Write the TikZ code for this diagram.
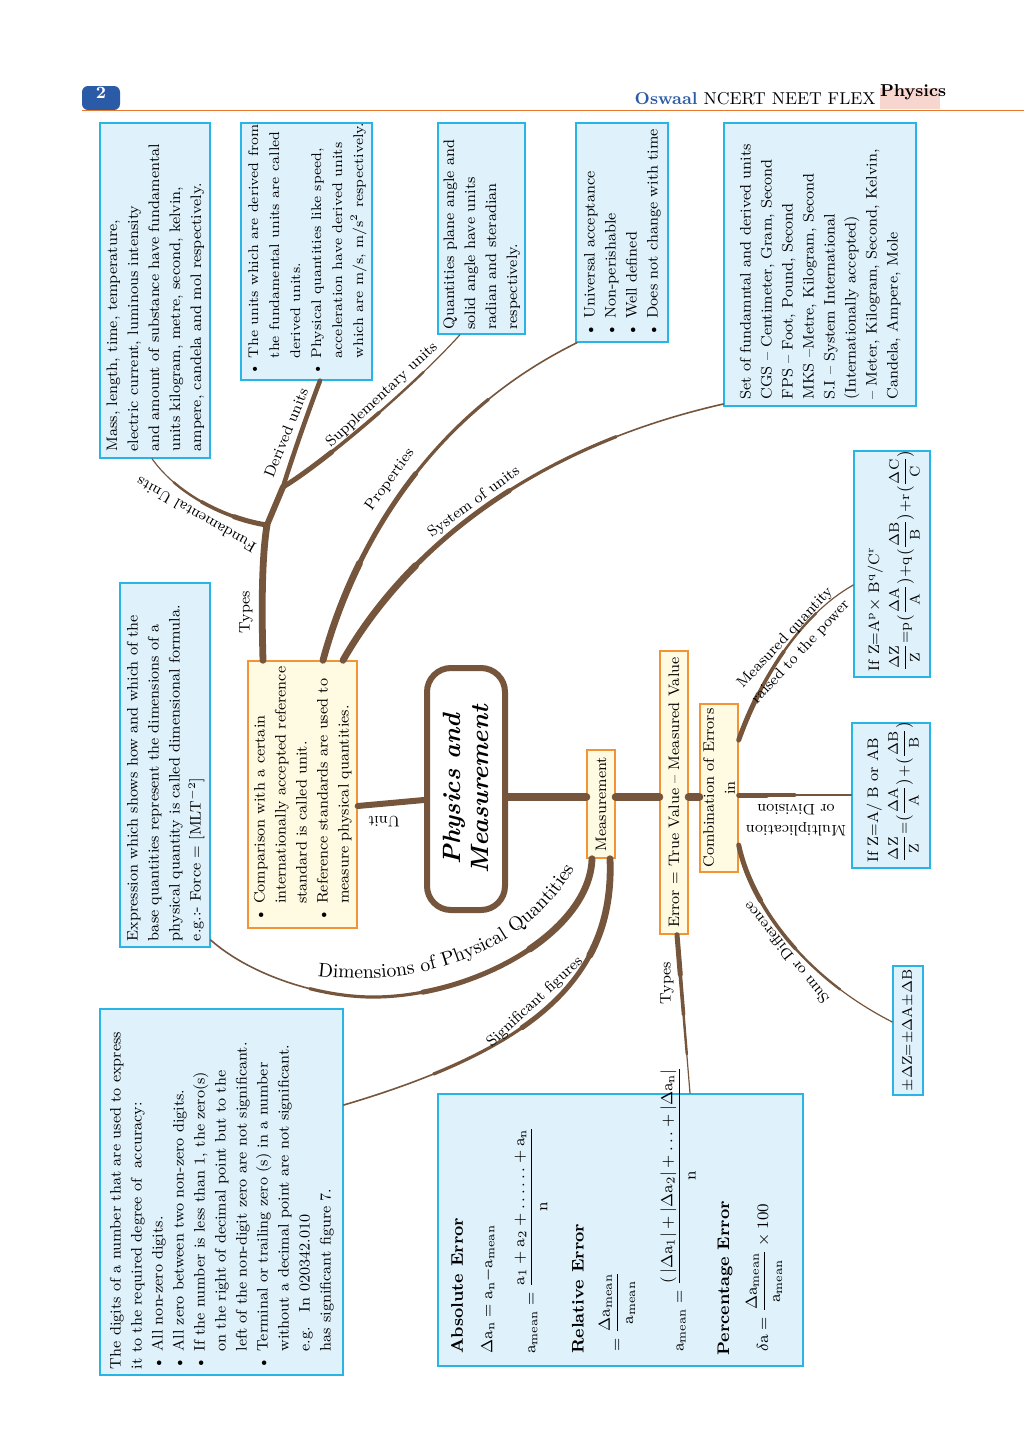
\documentclass[tikz,border=0pt]{standalone}
\usepackage{amsmath}
\usepackage{tikz}
\usetikzlibrary{fit,decorations.text}

\definecolor{brn}{RGB}{117,86,61}
\definecolor{bluefill}{RGB}{223,241,251}
\definecolor{blueline}{RGB}{41,180,230}
\definecolor{yelfill}{RGB}{255,251,226}
\definecolor{yelline}{RGB}{242,148,54}
\definecolor{oswblue}{RGB}{43,91,166}
\definecolor{hdrline}{RGB}{232,119,46}
\definecolor{pinkbg}{RGB}{248,214,208}

\newcommand{\txt}{\fontsize{7.6}{10.5}\selectfont}
\newcommand{\tighttxt}{\fontsize{7}{10.5}\selectfont}
\newcommand{\smalltxt}{\fontsize{7}{9}\selectfont}
\newcommand{\mathtxt}{\fontsize{8.4}{10.5}\selectfont}
\newcommand{\bigtxt}{\fontsize{9.8}{12}\selectfont}
\newcommand{\hdrfont}{\fontsize{8.6}{10}\selectfont}
\newcommand{\plainlines}[1]{\begin{tabular}{@{}l@{}}#1\end{tabular}}
\newcommand{\bulletlines}[1]{\begin{tabular}{@{}l@{\hspace{2.5pt}}l@{}}#1\end{tabular}}
\newcommand{\bul}{\textbullet}

\tikzset{
  bluebox/.style={draw=blueline, fill=bluefill, line width=0.7pt, inner sep=0pt},
  yelbox/.style={draw=yelline, fill=yelfill, line width=0.7pt, inner sep=0pt},
  uptxt/.style={rotate=90, font=\txt, inner sep=0pt},
  lbl/.style={font=\txt, inner sep=0pt, align=center},
  trunk/.style={draw=brn, line cap=round},
  taper/.style n args={3}{draw=brn, line width=0.8pt, line cap=round,
    preaction={draw=brn, line width=1.6pt, line cap=round, dash pattern=on #3 off 4000pt},
    preaction={draw=brn, line width=2.5pt, line cap=round, dash pattern=on #2 off 4000pt},
    preaction={draw=brn, line width=3.4pt, line cap=round, dash pattern=on #1 off 4000pt}},
  thintaper/.style n args={3}{draw=brn, line width=0.6pt, line cap=round,
    preaction={draw=brn, line width=1.2pt, line cap=round, dash pattern=on #3 off 4000pt},
    preaction={draw=brn, line width=1.8pt, line cap=round, dash pattern=on #2 off 4000pt},
    preaction={draw=brn, line width=2.5pt, line cap=round, dash pattern=on #1 off 4000pt}},
}

\begin{document}
\begin{tikzpicture}[x=0.5pt, y=-0.5pt]
\path[use as bounding box, fill=white] (0,0) rectangle (1024,1440);

% header
\node[fill=oswblue, rounded corners=3pt, inner sep=0pt, text=white, font=\hdrfont\bfseries, fit={(82,86) (120,110)}] (pgno) {2};
\draw[hdrline, line width=0.8pt] (pgno.south west) -- (pgno.south west -| 1024,0);
\node[anchor=base east, inner sep=0pt, font=\hdrfont] (hdr) at (876,104) {\textcolor{oswblue}{\bfseries Oswaal} NCERT NEET FLEX};
\node[fill=pinkbg, inner sep=0pt, font=\hdrfont\bfseries, fit={(880,88) (940,109)}] (subj) {Physics};

% top row of boxes
\node[bluebox, fit={(100,123) (210,458)}] (mass) {};
\node[uptxt] (masstxt) at (mass.center) {\parbox{161pt}{\plainlines{%
Mass, length, time, temperature,\\
electric current, luminous intensity\\
and amount of substance have fundamental\\
units kilogram, metre, second, kelvin,\\
ampere, candela and mol respectively.}}};
\node[bluebox, fit={(241,123) (372,380)}] (derived) {};
\node[uptxt, font=\tighttxt] (derivedtxt) at (derived.center) {\parbox{124pt}{\bulletlines{%
\bul & The units which are derived from\\
 & the fundamental units are called\\
 & derived units.\\
\bul & Physical quantities like speed,\\
 & acceleration have derived units\\
 & which are m/s, m/s$^2$ respectively.}}};
\node[bluebox, fit={(438,123) (525,334)}] (supp) {};
\node[uptxt] (supptxt) at (supp.center) {\parbox{101pt}{\plainlines{%
Quantities plane angle and\\
solid angle have units\\
radian and steradian\\
respectively.}}};
\node[bluebox, fit={(576,123) (668,342)}] (prop) {};
\node[uptxt] (proptxt) at (prop.center) {\parbox{104pt}{\bulletlines{%
\bul & Universal acceptance\\
\bul & Non-perishable\\
\bul & Well defined\\
\bul & Does not change with time}}};
\node[bluebox, fit={(724,123) (916,406)}] (sysu) {};
\node[uptxt] (sysutxt) at (sysu.center) {\parbox{135pt}{\plainlines{%
Set of fundamntal and derived units\\
CGS \textendash{} Centimeter, Gram, Second\\
FPS \textendash{} Foot, Pound, Second\\
MKS \textendash Metre, Kilogram, Second\\
S.I \textendash{} System International\\
(Internationally accepted)\\
\textendash{} Meter, Kilogram, Second, Kelvin,\\
Candela, Ampere, Mole}}};

% middle
\node[bluebox, fit={(120,583) (210,947)}] (dimf) {};
\node[uptxt] (dimftxt) at (dimf.center) {\parbox{176pt}{\plainlines{%
Expression which shows how and which of the\\
base quantities represent the dimensions of a\\
physical quantity is called dimensional formula.\\
e.g.:- Force = [MLT$^{-2}$]}}};
\node[yelbox, fit={(248,661) (357,928)}] (unitbox) {};
\node[uptxt] (unittxt) at (unitbox.center) {\parbox{127pt}{\bulletlines{%
\bul & Comparison with a certain\\
 & internationally accepted reference\\
 & standard is called unit.\\
\bul & Reference standards are used to\\
 & measure physical quantities.}}};
\node[draw=brn, line width=3pt, rounded corners=12pt, fill=white, inner sep=0pt, fit={(427,668) (505,910)}] (title) {};
\node[rotate=90, inner sep=0pt, align=center, font=\fontsize{12.5}{14}\selectfont\bfseries\itshape] (titletxt) at (title.center) {Physics and\\ Measurement};
\node[yelbox, fit={(587,750) (615,858)}] (meas) {};
\node[uptxt] (meastxt) at (meas.center) {Measurement};
\node[yelbox, fit={(660,651) (688,934)}] (errdef) {};
\node[uptxt] (errdeftxt) at (errdef.center) {Error = True Value \textendash{} Measured Value};
\node[yelbox, fit={(700,704) (738,872)}] (comb) {};
\node[uptxt, align=center] (combtxt) at (comb.center) {Combination of Errors\\ in};

% right side
\node[bluebox, fit={(854,451) (930,677)}] (powbox) {};
\node[uptxt] (powtxt) at (powbox.center) {\parbox{107pt}{\plainlines{%
If Z=A$^{\mathrm p}\times$ B$^{\mathrm q}$/C$^{\mathrm r}$\\[2pt]
\smalltxt$\mathrm{\dfrac{\Delta Z}{Z}{=}p\bigl(\dfrac{\Delta A}{A}\bigr){+}q\bigl(\dfrac{\Delta B}{B}\bigr){+}r\bigl(\dfrac{\Delta C}{C}\bigr)}$}}};
\node[bluebox, fit={(852,723) (930,868)}] (muldiv) {};
\node[uptxt] (muldivtxt) at (muldiv.center) {\parbox{67pt}{\plainlines{%
If Z=A/ B or AB\\[2pt]
\smalltxt$\mathrm{\dfrac{\Delta Z}{Z}{=}\bigl(\dfrac{\Delta A}{A}\bigr){+}\bigl(\dfrac{\Delta B}{B}\bigr)}$}}};
\node[bluebox, fit={(893,966) (923,1095)}] (sumdiff) {};
\node[uptxt, font=\smalltxt] (sumdifftxt) at (sumdiff.center) {$\mathrm{{\pm}\Delta Z{=}{\pm}\Delta A{\pm}\Delta B}$};

% bottom
\node[bluebox, fit={(100,1009) (343,1375)}] (sigfig) {};
\node[uptxt] (sigfigtxt) at (sigfig.center) {\parbox{177pt}{\bulletlines{%
\multicolumn{2}{@{}l@{}}{The digits of a number that are used to express}\\
\multicolumn{2}{@{}l@{}}{it to the required degree of\ \ accuracy:}\\
\bul & All non-zero digits.\\
\bul & All zero between two non-zero digits.\\
\bul & If the number is less than 1, the zero(s)\\
 & on the right of decimal point but to the\\
 & left of the non-digit zero are not significant.\\
\bul & Terminal or trailing zero (s) in a number\\
 & without a decimal point are not significant.\\
 & e.g.\quad In 020342.010\\
 & has significant figure 7.}}};
\node[bluebox, fit={(438,1094) (803,1366)}] (errbox) {};
\node[uptxt, anchor=west, font=\mathtxt] (abshead) at (457,1354) {\textbf{Absolute Error}};
\node[uptxt, anchor=west, font=\mathtxt] (absdef) at (488,1354) {$\mathrm{\Delta a_n=a_n{-}a_{mean}}$};
\node[uptxt, anchor=west, font=\mathtxt] (absmean) at (531,1354) {$\mathrm{a_{mean}=\dfrac{a_1+a_2+\ldots\ldots+a_n}{n}}$};
\node[uptxt, anchor=west, font=\mathtxt] (relhead) at (578,1354) {\textbf{Relative Error}};
\node[uptxt, anchor=west, font=\mathtxt] (reldef) at (617,1352) {$\mathrm{=\dfrac{\Delta a_{mean}}{a_{mean}}}$};
\node[uptxt, anchor=west, font=\mathtxt] (relmean) at (678,1352) {$\mathrm{a_{mean}=\dfrac{(\,|\Delta a_1|+|\Delta a_2|+\ldots+|\Delta a_n|}{n}}$};
\node[uptxt, anchor=west, font=\mathtxt] (pcthead) at (725,1356) {\textbf{Percentage Error}};
\node[uptxt, anchor=west, font=\mathtxt] (pctdef) at (764,1352) {$\mathrm{\delta a=\dfrac{\Delta a_{mean}}{a_{mean}}\times 100}$};

% junctions
\coordinate (j1) at (267,525);
\coordinate (j2) at (283,487);

% unit side
\draw[trunk, line width=3pt] (unitbox.east |- 0,806) -- (title.west |- 0,800);
\draw[trunk, line width=3.4pt] (263,0 |- unitbox.north) .. controls (261,590) and (263,550) .. (j1);
\draw[trunk, line width=3pt] (j1) -- (j2);
\draw[trunk, line width=2.3pt] (j2) .. controls (293,455) and (307,415) .. (320,0 |- derived.south);
\draw[thintaper={17pt}{35pt}{52pt}] (j1) .. controls (232,520) and (180,498) .. (152,0 |- mass.south);
\draw[thintaper={30pt}{61pt}{91pt}] (j2) .. controls (320,465) and (410,390) .. (460,0 |- supp.south);
\draw[taper={52pt}{105pt}{157pt}] (323,0 |- unitbox.north) .. controls (350,560) and (420,420) .. (577,0 |- prop.south);
\draw[taper={60pt}{120pt}{180pt}] (343,0 |- unitbox.north) .. controls (400,560) and (520,450) .. (sysu.west |- 0,404);

% measurement side
\draw[trunk, line width=4pt] (title.east |- 0,797) -- (meas.west |- 0,797);
\draw[trunk, line width=4pt] (meas.east |- 0,797) -- (errdef.west |- 0,797);
\draw[trunk, line width=4pt] (errdef.east |- 0,797) -- (comb.west |- 0,797);
\draw[taper={57pt}{115pt}{172pt}] (592,0 |- meas.south) .. controls (590,930) and (480,995) .. (377,997) .. controls (320,998) and (250,975) .. (dimf.east |- 0,940);
\draw[taper={50pt}{100pt}{150pt}] (610,0 |- meas.south) .. controls (615,980) and (530,1050) .. (sigfig.east |- 0,1105);
\draw[thintaper={20pt}{40pt}{60pt}] (677,0 |- errdef.south) -- (690,0 |- errbox.north);
\draw[thintaper={25pt}{50pt}{75pt}] (comb.east |- 0,740) .. controls (760,680) and (800,615) .. (powbox.west |- 0,585);
\draw[thintaper={14pt}{28pt}{42pt}] (comb.east |- 0,795) -- (muldiv.west |- 0,795);
\draw[thintaper={30pt}{60pt}{90pt}] (comb.east |- 0,845) .. controls (750,900) and (800,975) .. (sumdiff.west |- 0,1022);

% branch labels
\node[lbl, rotate=90] (ltypes) at (246,612) {Types};
\node[lbl, rotate=150] (lfund) at (196,515) {Fundamental Units};
\node[lbl, rotate=68] (lderived) at (286,433) {Derived units};
\node[lbl, rotate=43] (lsupp) at (382,395) {Supplementary units};
\node[lbl, rotate=54] (lprop) at (390,480) {Properties};
\node[lbl, rotate=36] (lsys) at (474,502) {System of units};
\node[lbl, rotate=180] (lunit) at (384,822) {Unit};
\node[lbl, rotate=43] (lsig) at (535,1002) {Significant figures};
\node[lbl, rotate=90] (ltypes2) at (667,983) {Types};
\node[lbl, rotate=47] (lpow) at (793,645) {Measured quantity\\ raised to the power};
\node[lbl, rotate=180] (lmul) at (796,820) {Multiplication\\ or Division};
\node[lbl, rotate=129] (lsum) at (786,953) {Sum or Difference};
\path[decorate, decoration={text along path, text align=center,
  text={|\bigtxt|Dimensions of Physical Quantities}}]
  (310,975) .. controls (430,992) and (535,945) .. (578,862);
\end{tikzpicture}
\end{document}
